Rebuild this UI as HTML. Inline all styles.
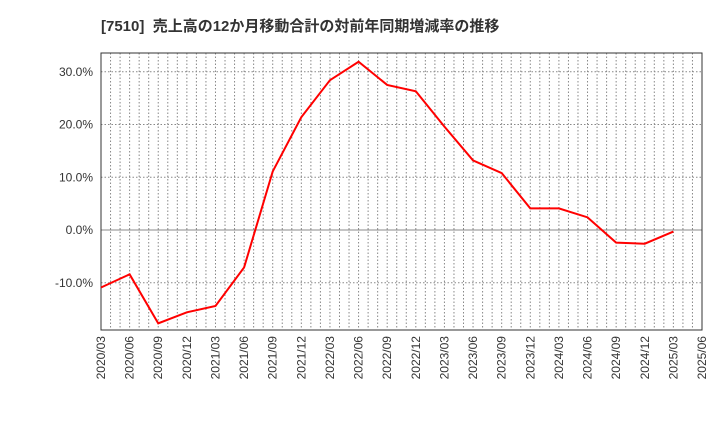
<!DOCTYPE html>
<html><head><meta charset="utf-8"><style>
body{margin:0;background:#fff;font-family:"Liberation Sans","Noto Sans CJK JP",sans-serif}
</style></head><body>
<svg id="c" width="720" height="440" xmlns="http://www.w3.org/2000/svg">
<text x="101" y="31" font-size="15" font-weight="bold" fill="#333" font-family="Liberation Sans,Noto Sans CJK JP,sans-serif">[7510]&#160;&#160;売上高の12か月移動合計の対前年同期増減率の推移</text>
<g id="g"></g>
</svg>
<script>
const labels=["2020/03","2020/06","2020/09","2020/12","2021/03","2021/06","2021/09","2021/12","2022/03","2022/06","2022/09","2022/12","2023/03","2023/06","2023/09","2023/12","2024/03","2024/06","2024/09","2024/12","2025/03","2025/06"];
const values=[-10.9,-8.4,-17.7,-15.6,-14.4,-7.1,11.1,21.4,28.4,31.9,27.5,26.3,19.6,13.2,10.8,4.1,4.1,2.4,-2.4,-2.6,-0.3];
const yTicks=[30,20,10,0,-10];
const L=101,R=702,T=53,B=330;
const x=i=>L+i*(R-L)/(labels.length-1);
const y=v=>230-v*5.275;
const g=document.getElementById('g');const NS='http://www.w3.org/2000/svg';
function mk(t,a,p){const e=document.createElementNS(NS,t);for(const k in a)e.setAttribute(k,a[k]);(p||g).appendChild(e);return e;}
for(let m=1;m<(labels.length-1)*3;m++){const xx=L+m*(R-L)/((labels.length-1)*3);
const l=mk('line',{x1:xx,x2:xx,y1:T,y2:B,stroke:'#888','stroke-dasharray':'1.5,2','stroke-width':1});
}
yTicks.forEach(v=>{const l=mk('line',{x1:L,x2:R,y1:y(v),y2:y(v),stroke:v===0?'#888':'#888','stroke-dasharray':v===0?'':'1.5,2','stroke-width':1});

const t=mk('text',{x:L-8,y:y(v)+4,'text-anchor':'end','font-size':12,fill:'#333'});t.textContent=v.toFixed(1)+'%';
});
labels.forEach((s,i)=>{const t=mk('text',{transform:`translate(${x(i)+4},${B+6}) rotate(-90)`,'text-anchor':'end','font-size':12,fill:'#333'});t.textContent=s;
});
const f=mk('rect',{x:L,y:T,width:R-L,height:B-T,fill:'none',stroke:'#333','stroke-width':1});

const p=mk('polyline',{points:values.map((v,i)=>x(i)+','+y(v)).join(' '),fill:'none',stroke:'#f00','stroke-width':2});

</script>
</body></html>
